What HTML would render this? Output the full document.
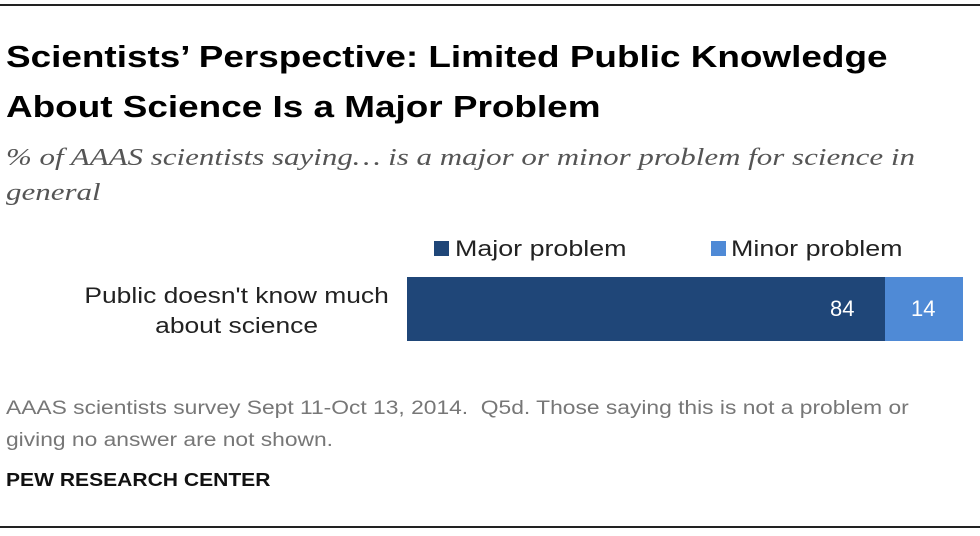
<!DOCTYPE html>
<html><head><style>
body{margin:0;width:980px;height:536px;background:#fff;position:relative;font-family:"Liberation Sans",Arial,sans-serif;overflow:hidden}
.a{position:absolute;white-space:nowrap}
.s{transform-origin:0 0}
</style></head><body>
<div class="a" style="left:0;top:4px;width:980px;height:2px;background:#222"></div>
<div class="a" style="left:0;top:526px;width:980px;height:2px;background:#222"></div>
<div class="a s" style="left:6px;top:32px;font-size:31px;font-weight:bold;color:#000;line-height:50px;transform:scaleX(1.19)">Scientists’ Perspective: Limited Public Knowledge<br>About Science Is a Major Problem</div>
<div class="a s" style="left:6px;top:141px;font-size:24px;font-style:italic;color:#555;line-height:35px;font-family:'Liberation Serif',serif;transform:scaleX(1.29)">% of AAAS scientists saying… is a major or minor problem for science in<br>general</div>
<div class="a" style="left:434px;top:241px;width:15px;height:15px;background:#1f4678"></div>
<div class="a s" style="left:455px;top:236px;font-size:22px;color:#222;transform:scaleX(1.22)">Major problem</div>
<div class="a" style="left:711px;top:241px;width:15px;height:15px;background:#4f8ad6"></div>
<div class="a s" style="left:731px;top:236px;font-size:22px;color:#222;transform:scaleX(1.22)">Minor problem</div>
<div class="a s" style="left:83px;top:281px;width:256px;text-align:center;font-size:22px;color:#222;line-height:30px;transform:scaleX(1.2)">Public doesn't know much<br>about science</div>
<div class="a" style="left:407px;top:277px;width:478px;height:64px;background:#1f4678"></div>
<div class="a" style="left:885px;top:277px;width:78px;height:64px;background:#4f8ad6"></div>
<div class="a" style="left:830px;top:296px;font-size:22px;color:#fff">84</div>
<div class="a" style="left:911px;top:296px;font-size:22px;color:#fff">14</div>
<div class="a s" style="left:6px;top:393px;font-size:19px;color:#777;line-height:32px;transform:scaleX(1.2)">AAAS scientists survey Sept 11-Oct 13, 2014.&nbsp; Q5d. Those saying this is not a problem or<br>giving no answer are not shown.</div>
<div class="a s" style="left:6px;top:470px;font-size:18px;font-weight:bold;color:#111;transform:scaleX(1.17)">PEW RESEARCH CENTER</div>
</body></html>
